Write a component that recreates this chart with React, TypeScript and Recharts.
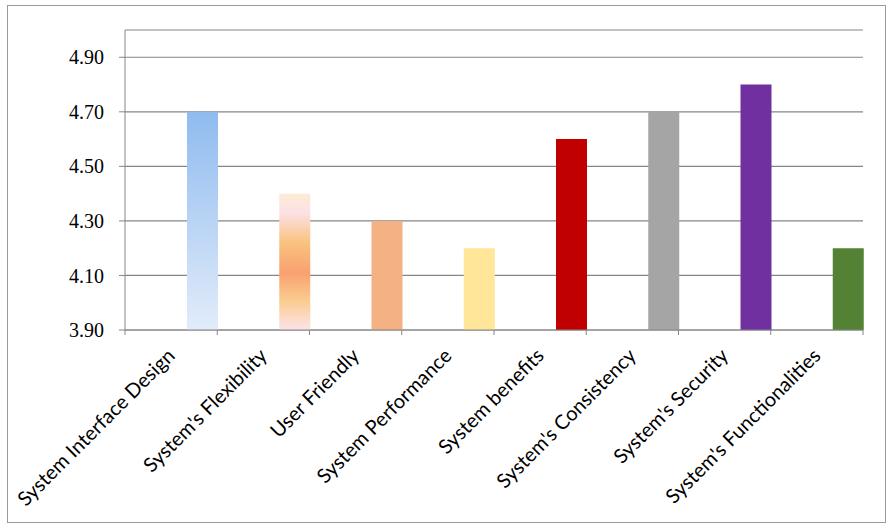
import React from 'react';
import { BarChart, Bar, XAxis, YAxis, CartesianGrid, Cell } from 'recharts';

const categories = [
  'System Interface Design',
  "System's Flexibility",
  'User Friendly',
  'System Performance',
  'System benefits',
  "System's Consistency",
  "System's Security",
  "System's Functionalities",
];
const scores = [4.7, 4.4, 4.3, 4.2, 4.6, 4.7, 4.8, 4.2];
const yTicks = [3.9, 4.1, 4.3, 4.5, 4.7, 4.9];
const yDomain = [3.9, 5.0];
const barFills = [
  'url(#gradBlue)',
  'url(#gradMulti)',
  '#F4B183',
  '#FFE699',
  '#C00000',
  '#A5A5A5',
  '#7030A0',
  '#548235',
];

const data = categories.map((name, i) => ({ name, score: scores[i] }));

const AXIS = '#868686';

function XTick(props: any) {
  const { x, y, payload } = props;
  const half = payload && payload.offset ? payload.offset : 0;
  const isLast = payload.value === categories[categories.length - 1];
  const ax = x + 5;
  const ay = y + 27;
  return (
    <g>
      <line x1={x - half} x2={x - half} y1={y} y2={y + 5} stroke={AXIS} />
      {isLast && <line x1={x + half} x2={x + half} y1={y} y2={y + 5} stroke={AXIS} />}
      <text
        x={ax}
        y={ay}
        transform={`rotate(-45, ${ax}, ${ay})`}
        textAnchor="end"
        fontFamily="Lato"
        fontSize={20}
        fill="#000"
      >
        {payload.value}
      </text>
    </g>
  );
}

export default function App() {
  return (
    <div style={{ position: 'absolute', left: 0, top: 0, width: 893, height: 529, background: '#fff' }}>
      <div
        style={{
          position: 'absolute',
          left: 7,
          top: 5,
          width: 879,
          height: 518,
          boxSizing: 'border-box',
          border: '1.5px solid #9a9a9a',
        }}
      />
      <div style={{ position: 'absolute', left: 0, top: 0 }}>
        <BarChart
          width={893}
          height={529}
          data={data}
          margin={{ top: 30, right: 30, bottom: 0, left: 0 }}
          barCategoryGap={0}
          barGap={0}
        >
          <defs>
            <linearGradient id="gradBlue" x1="0" y1="0" x2="0" y2="1">
              <stop offset="0%" stopColor="#8FBBEF" />
              <stop offset="100%" stopColor="#E2ECFA" />
            </linearGradient>
            <linearGradient id="gradMulti" x1="0" y1="0" x2="0" y2="1">
              <stop offset="0%" stopColor="#FCEBD3" />
              <stop offset="14%" stopColor="#FCE1E6" />
              <stop offset="36%" stopColor="#F9C27E" />
              <stop offset="58%" stopColor="#F8A171" />
              <stop offset="78%" stopColor="#FBCB8E" />
              <stop offset="100%" stopColor="#FDE3E8" />
            </linearGradient>
          </defs>
          <CartesianGrid vertical={false} stroke={AXIS} strokeWidth={1.2} />
          <XAxis
            dataKey="name"
            height={199}
            interval={0}
            tickLine={false}
            tickSize={0}
            tickMargin={0}
            axisLine={{ stroke: AXIS }}
            tick={<XTick />}
          />
          <YAxis
            width={125}
            domain={yDomain}
            ticks={yTicks}
            interval={0}
            allowDataOverflow
            tickSize={6}
            tickMargin={15}
            axisLine={{ stroke: AXIS }}
            tickLine={{ stroke: AXIS }}
            tickFormatter={(v: number) => v.toFixed(2)}
            tick={{ fontFamily: 'Liberation Serif', fontSize: 20, fill: '#000' }}
          />
          <Bar dataKey="pad1" isAnimationActive={false} />
          <Bar dataKey="pad2" isAnimationActive={false} />
          <Bar dataKey="score" isAnimationActive={false}>
            {data.map((d, i) => (
              <Cell key={d.name} fill={barFills[i]} />
            ))}
          </Bar>
        </BarChart>
      </div>
    </div>
  );
}
